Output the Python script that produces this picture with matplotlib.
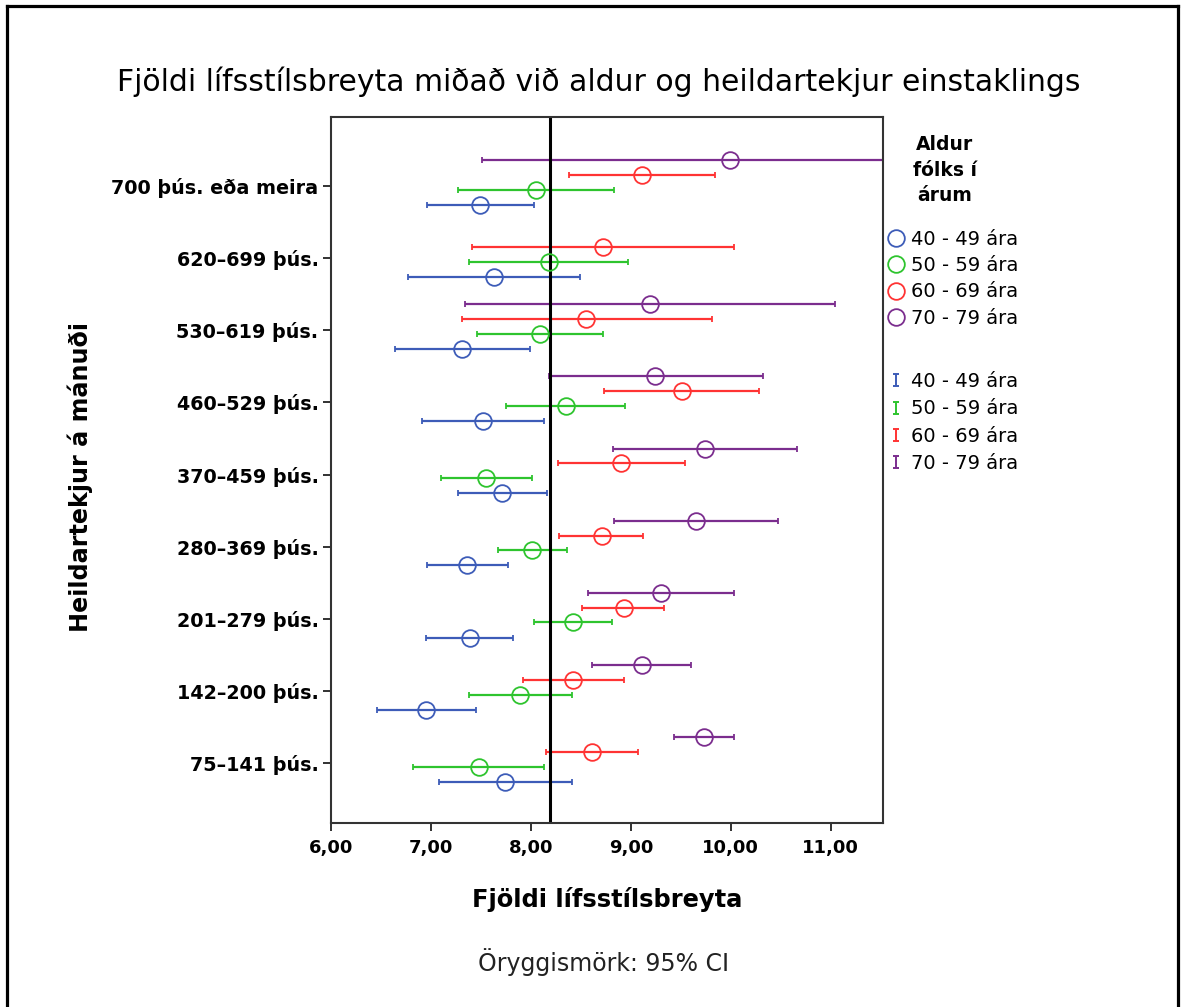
import numpy as np
import matplotlib
matplotlib.use("Agg")
import matplotlib.pyplot as plt
from matplotlib.lines import Line2D
from matplotlib.path import Path

# income groups, top to bottom
categories = ["700 þús. eða meira", "620–699 þús.", "530–619 þús.", "460–529 þús.",
              "370–459 þús.", "280–369 þús.", "201–279 þús.", "142–200 þús.", "75–141 þús."]
xticks = [6, 7, 8, 9, 10, 11]
xtick_labels = ["6,00", "7,00", "8,00", "9,00", "10,00", "11,00"]
ref_line = 8.19

age_groups = ["40 - 49 ára", "50 - 59 ára", "60 - 69 ára", "70 - 79 ára"]

mean_40 = [7.49, 7.63, 7.31, 7.52, 7.71, 7.36, 7.39, 6.95, 7.74]
low_40 = [6.96, 6.77, 6.64, 6.91, 7.27, 6.96, 6.95, 6.46, 7.08]
high_40 = [8.03, 8.49, 7.99, 8.13, 8.16, 7.77, 7.82, 7.45, 8.41]

mean_50 = [8.05, 8.18, 8.09, 8.35, 7.55, 8.01, 8.42, 7.89, 7.48]
low_50 = [7.27, 7.38, 7.46, 7.75, 7.10, 7.67, 8.03, 7.38, 6.82]
high_50 = [8.83, 8.97, 8.72, 8.94, 8.01, 8.36, 8.81, 8.41, 8.13]

mean_60 = [9.11, 8.72, 8.55, 9.51, 8.90, 8.71, 8.93, 8.42, 8.61]
low_60 = [8.38, 7.41, 7.31, 8.73, 8.27, 8.28, 8.51, 7.92, 8.15]
high_60 = [9.84, 10.03, 9.81, 10.28, 9.54, 9.12, 9.33, 8.93, 9.07]

mean_70 = [9.99, np.nan, 9.19, 9.24, 9.74, 9.65, 9.30, 9.11, 9.73]
low_70 = [7.51, np.nan, 7.34, 8.18, 8.82, 8.83, 8.57, 8.61, 9.43]
high_70 = [12.47, np.nan, 11.04, 10.32, 10.66, 10.47, 10.03, 9.60, 10.03]

colors = ["#3d5cb8", "#2ec42e", "#ff3333", "#7b2d8e"]
offsets = [0.26, 0.05, -0.155, -0.36]

series = [(mean_40, low_40, high_40), (mean_50, low_50, high_50),
          (mean_60, low_60, high_60), (mean_70, low_70, high_70)]

fig = plt.figure(figsize=(11.84, 10.07), dpi=100)
ax = fig.add_axes([0.2796, 0.1827, 0.4659, 0.7011])

ypos = np.arange(len(categories))
for (m, lo, hi), col, off in zip(series, colors, offsets):
    m = np.array(m)
    err = [m - np.array(lo), np.array(hi) - m]
    ax.errorbar(m, ypos + off, xerr=err, fmt="o", mfc="none", mec=col, ms=12, mew=1.3,
                ecolor=col, elinewidth=1.6, capsize=2, capthick=1.5)

ax.axvline(ref_line, color="black", lw=2.2)

ax.set_xlim(6, 11.52)
ax.set_ylim(8.83, -0.957)
ax.set_xticks(xticks)
ax.set_xticklabels(xtick_labels, fontweight="bold", fontsize=13)
ax.set_yticks(ypos)
ax.set_yticklabels(categories, fontweight="bold", fontsize=13.8)
ax.tick_params(direction="out", length=5.5, width=1.3, color="#222222")
ax.tick_params(axis="x", pad=6)
for s in ax.spines.values():
    s.set_color("#333333")
    s.set_linewidth(1.5)

ax.set_xlabel("Fjöldi lífsstílsbreyta", fontweight="bold", fontsize=17.4, va="center")
ax.xaxis.set_label_coords(0.5, -0.1086)
ax.set_ylabel("Heildartekjur á mánuði", fontweight="bold", fontsize=17.2, va="center")
ax.yaxis.set_label_coords(-0.455, 0.49)

fig.suptitle("Fjöldi lífsstílsbreyta miðað við aldur og heildartekjur einstaklings",
             x=0.5055, y=1 - 82 / 1007, va="center", fontsize=21.5)
fig.text(0.5097, 1 - 962 / 1007, "Öryggismörk: 95% CI", ha="center", va="center",
         fontsize=17, color="#222222")

# legend title
fig.text(945 / 1184, 1 - 170 / 1007, "Aldur\nfólks í\nárum", ha="center", va="center",
         multialignment="center", fontweight="bold", fontsize=13.5, linespacing=1.45)

# legend: markers
circle_handles = [Line2D([], [], ls="none", marker="o", mfc="none", mec=c, ms=12, mew=1.3)
                  for c in colors]
leg1 = ax.legend(circle_handles, age_groups,
                 loc="upper left", bbox_to_anchor=(887 / 1184, 1 - 230 / 1007),
                 bbox_transform=fig.transFigure, frameon=False, fontsize=14,
                 handlelength=0.9, handletextpad=0.35, labelspacing=0.37,
                 borderpad=0, borderaxespad=0)
ax.add_artist(leg1)

# legend: error bars
ibar = Path([(-0.5, 1), (0.5, 1), (0, 1), (0, -1), (-0.5, -1), (0.5, -1)],
            [Path.MOVETO, Path.LINETO, Path.MOVETO, Path.LINETO, Path.MOVETO, Path.LINETO])
bar_handles = [Line2D([], [], ls="none", marker=ibar, mfc="none", mec=c, ms=9, mew=1.4)
               for c in colors]
ax.legend(bar_handles, age_groups, loc="upper left",
          bbox_to_anchor=(887 / 1184, 1 - 372 / 1007), bbox_transform=fig.transFigure,
          frameon=False, fontsize=14, handlelength=0.9, handletextpad=0.35,
          labelspacing=0.43, borderpad=0, borderaxespad=0)

# outer frame
frame_kw = dict(color="black", lw=2.3, transform=fig.transFigure)
fig.add_artist(Line2D([7 / 1184, 7 / 1184], [0, 1 - 6 / 1007], **frame_kw))
fig.add_artist(Line2D([7 / 1184, 1178 / 1184], [1 - 6 / 1007, 1 - 6 / 1007], **frame_kw))
fig.add_artist(Line2D([1178 / 1184, 1178 / 1184], [0, 1 - 6 / 1007], **frame_kw))

fig.savefig("out.png", dpi=100)
